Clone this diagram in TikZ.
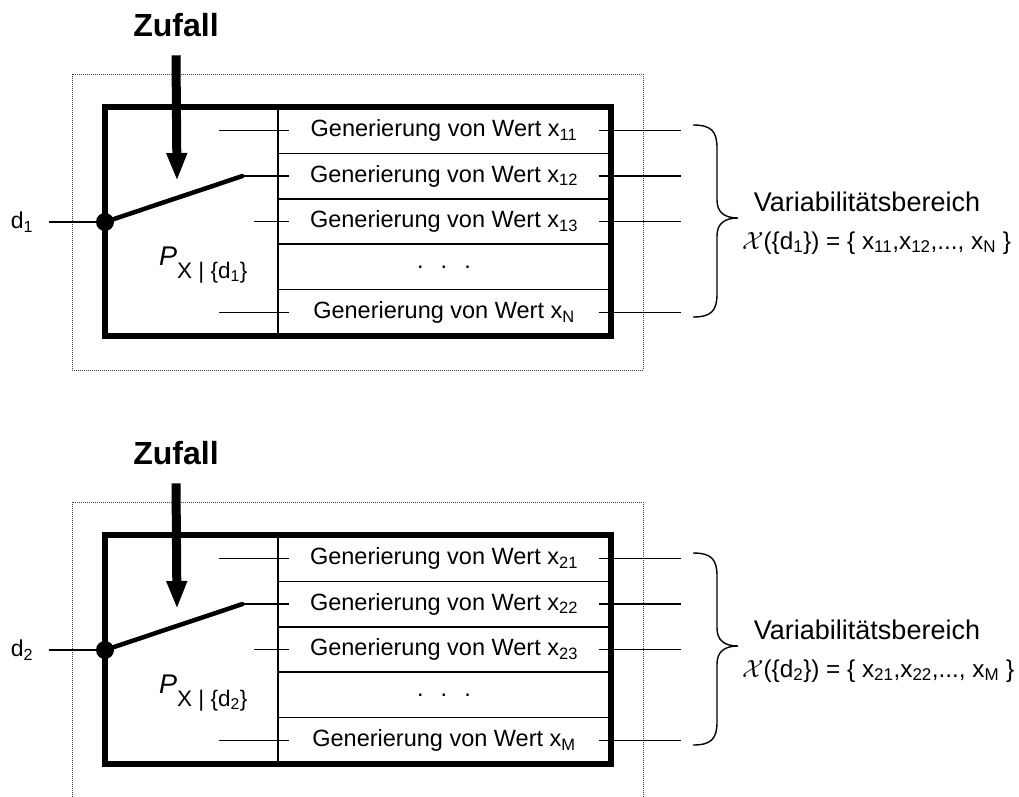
\documentclass[tikz,border=0pt]{standalone}
\usepackage{fontspec}
\setmainfont{Liberation Sans}
\usetikzlibrary{arrows.meta}
\begin{document}
\begin{tikzpicture}[x=1pt,y=-1pt,
  genrow/.style={draw,line width=1.5pt,minimum width=332pt,minimum height=45.4pt,
    inner sep=0pt,font=\fontsize{23.5}{28}\selectfont},
  frame/.style={draw,line width=3.6pt,minimum width=504pt,minimum height=227pt,inner sep=0pt},
  stub/.style={line width=1.3pt},
  lever/.style={line width=4.5pt,line cap=round},
  randarrow/.style={line width=9pt,-{Triangle[length=28pt,width=19pt]}},
  outline/.style={draw=black!75,line width=0.8pt,dash pattern=on 0.9pt off 1.1pt},
  bigtext/.style={font=\bfseries\fontsize{32}{36}\selectfont},
  sidetext/.style={font=\fontsize{27}{30}\selectfont},
  settext/.style={font=\fontsize{24.3}{28}\selectfont},
  dtext/.style={font=\fontsize{23}{27}\selectfont}]
\useasboundingbox (0,0) rectangle (1019,797);
\clip (0,0) rectangle (1019,797);

\foreach \dd/\last/\dy in {1/N/0,2/M/428}{
\begin{scope}[yshift=-\dy pt,name prefix=g\dd-]
  % surrounding dotted frame
  \draw[outline] (72,74) rectangle (643,370);

  % outer block and its generator rows
  \node[frame] (box) at (358,221.5) {};
  \node[genrow] (r1) at (444,130.7) {Generierung von Wert x\textsubscript{\dd1}};
  \node[genrow] (r2) at (444,176.1) {Generierung von Wert x\textsubscript{\dd2}};
  \node[genrow] (r3) at (444,221.5) {Generierung von Wert x\textsubscript{\dd3}};
  \node[genrow] (r4) at (444,266.9) {.\hspace{17pt}.\hspace{17pt}.};
  \node[genrow] (r5) at (444,312.3) {Generierung von Wert x\textsubscript{\last}};
  \draw[line width=3.6pt] (box.north east) rectangle (box.south west);

  % input stubs of the rows
  \draw[stub] ([xshift=-58pt]r1.west) -- ([xshift=12pt]r1.west);
  \draw[stub] ([xshift=-23pt]r3.west) -- ([xshift=12pt]r3.west);
  \draw[stub] ([xshift=-58pt]r5.west) -- ([xshift=12pt]r5.west);
  % output stubs
  \foreach \r in {r1,r2,r3,r5}
    \draw[stub] ([xshift=-12pt]\r.east) -- ([xshift=70pt]\r.east);

  % switch: input d, contact point and lever
  \node[dtext] (dlab) at (22,222) {d\textsubscript{\dd}};
  \node[circle,fill,inner sep=0pt,minimum size=18pt] (dot) at (105,222) {};
  \coordinate (lv) at ([xshift=-35pt]r2.west);
  \draw[stub] ([xshift=12pt]dlab.east) -- (dot.center);
  \draw[lever] (dot.center) -- (lv);
  \draw[stub] (lv) -- ([xshift=12pt]r2.west);

  % distribution label
  \node[anchor=base west,inner sep=0pt] (plab) at (159,265)
    {\fontsize{27}{30}\selectfont\itshape P\raisebox{-13pt}{\upshape\fontsize{22.5}{26}\selectfont X | \{d\textsubscript{\dd}\}}};

  % random input
  \node[bigtext] (zuf) at (176,25) {Zufall};
  \coordinate (tip) at (177,181);
  \draw[randarrow] ([yshift=-15pt]zuf.south) -- (tip);

  % brace collecting the outputs
  \draw[line width=1.4pt] (693,125) .. controls (711,125) and (717,131) .. (717,148)
    -- (717,200) .. controls (717,212) and (724,218) .. (738,218)
    .. controls (724,218) and (717,224) .. (717,236)
    -- (717,294) .. controls (717,311) and (711,317) .. (693,317);

  \node[sidetext] (var) at (867,202) {Variabilitätsbereich};
  \node[settext,anchor=base west,inner sep=0pt] (set) at (742,249)
    {$\mathcal{X}$(\{d\textsubscript{\dd}\}) = \{ x\textsubscript{\dd1},x\textsubscript{\dd2},..., x\textsubscript{\last} \}};
\end{scope}
}
\end{tikzpicture}
\end{document}
